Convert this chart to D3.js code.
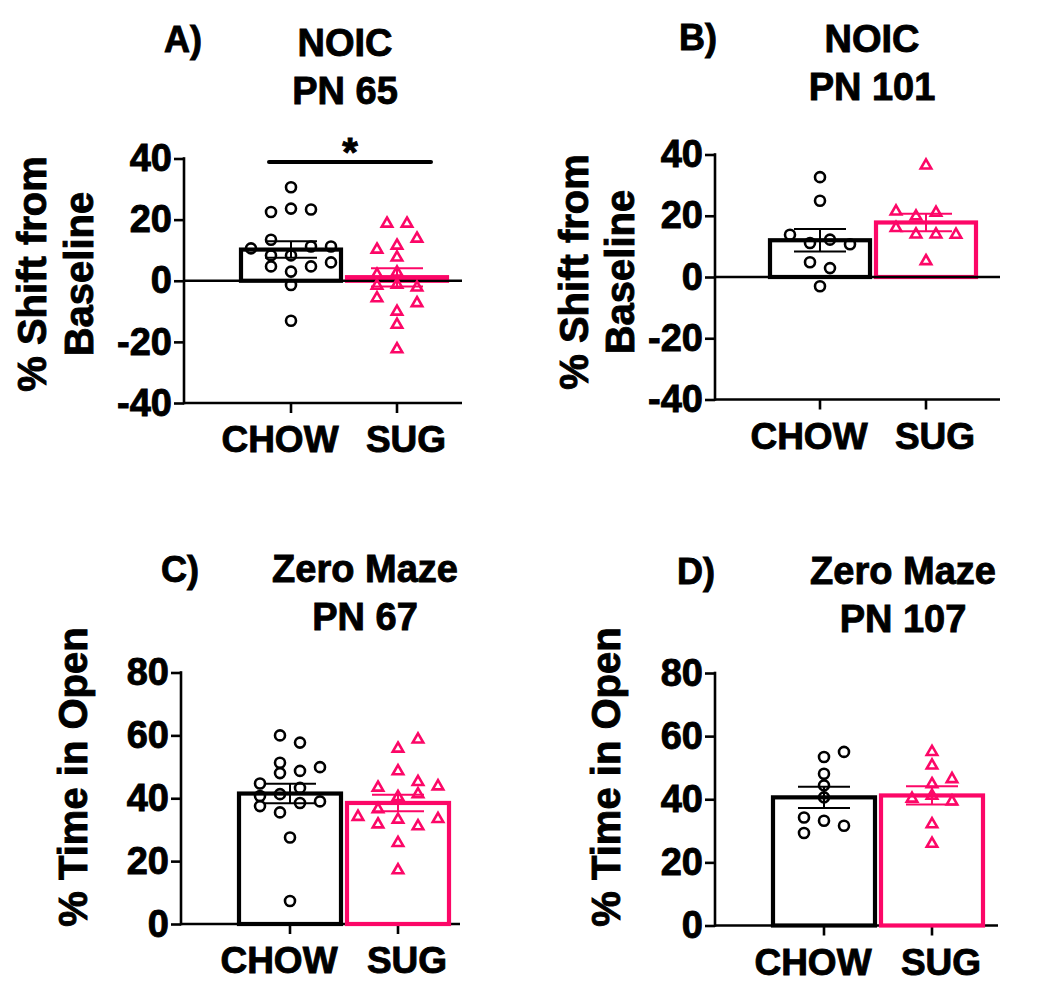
<!DOCTYPE html>
<html>
<head>
<meta charset="utf-8">
<script src="https://cdn.jsdelivr.net/npm/d3@7"></script>
<style>
  html, body { margin: 0; padding: 0; background: #fff; }
  svg text { font-family: "Liberation Sans", Arial, sans-serif; font-weight: bold; fill: #000;
             stroke: #000; stroke-width: 0.9px; paint-order: stroke; }
</style>
</head>
<body>
<svg id="chart" width="1050" height="990"></svg>
<script>
// ---------------- DATA ----------------
const categories = ["CHOW", "SUG"];
const shiftTicks = [-40, -20, 0, 20, 40];
const timeTicks = [0, 20, 40, 60, 80];

// A) NOIC PN 65
const noic65Chow = [30.6, 22.5, 23.6, 23.3, 13.4, 10.6, 11.2, 11.2, 8.3, 8.3, 6.0, 4.7, 4.7, 3.0, -1.4, -13.1];
const noic65ChowSlot = [0, -2, 0, 2, -2, -4, 2, 4, -2, 0, 4, -2, 2, 0, 0, 0];
const noic65Sug = [18.7, 18.7, 13.8, 10.2, 11.5, 7.6, 2.0, 2.7, -1.6, -1.3, -2.2, -5.7, -7.3, -10.1, -14.4, -22.4];
const noic65SugSlot = [-1, 1, 2, -2, 0, 0, -2, 0, -2, 0, 2, -2, 2, 0, 0, 0];
const noic65Mean = [10.2, 1.1];
const noic65Sem = [2.7, 2.95];

// B) NOIC PN 101
const noic101Chow = [32.6, 24.9, 13.8, 11.1, 12.2, 10.7, 4.8, 2.9, -3.0];
const noic101ChowSlot = [0, 0, -3, -1, 1, 3, -1, 1, 0];
const noic101Sug = [36.4, 21.4, 19.8, 21.0, 16.0, 13.9, 13.9, 13.8, 5.2];
const noic101SugSlot = [0, -3, -1, 1, -3, -1, 1, 3, 0];
const noic101Mean = [12.0, 17.8];
const noic101Sem = [3.65, 2.85];

// C) Zero Maze PN 67
const maze67Chow = [60.0, 57.7, 51.3, 49.9, 48.0, 48.7, 44.7, 43.3, 40.7, 41.3, 37.5, 38.5, 39.0, 35.5, 27.5, 7.3];
const maze67ChowSlot = [-1, 1, -1, 3, -1, 1, -3, 1, -3, -1, -3, 1, 3, -1, 0, 0];
const maze67Sug = [58.7, 55.8, 48.6, 45.2, 43.4, 43.8, 40.4, 41.3, 36.5, 34.1, 33.2, 33.4, 31.7, 31.1, 25.8, 17.1];
const maze67SugSlot = [2, 0, 0, 2, -2, 4, 0, 2, -2, -4, 0, 4, -2, 2, 0, 0];
const maze67Mean = [41.5, 38.5];
const maze67Sem = [3.1, 2.65];

// D) Zero Maze PN 107
const maze107Chow = [55.0, 53.4, 48.1, 44.4, 40.6, 34.2, 33.2, 31.6, 29.3];
const maze107ChowSlot = [2, 0, 0, 0, 0, -2, 0, 2, -2];
const maze107Sug = [55.0, 50.7, 46.4, 44.8, 41.1, 40.2, 39.3, 32.1, 25.9];
const maze107SugSlot = [0, 0, 2, 0, 0, -2, 2, 0, 0];
const maze107Mean = [40.6, 41.2];
const maze107Sem = [3.35, 2.9];

// ---------------- DRAWING ----------------
const PINK = "#fc0767";
const colors = { CHOW: "#000", SUG: PINK };
const svg = d3.select("#chart");
const slotScale = d3.scaleLinear().domain([-1, 1]).range([-10, 10]);

function drawPanel(p) {
  const g = svg.append("g");
  const y = d3.scaleLinear().domain(p.domain).range([p.yBot, p.yTop]);
  const x = d3.scaleBand().domain(categories).range(p.xRange).paddingInner(0).paddingOuter(0);
  const bw = x.bandwidth();

  // y axis
  const yAxis = d3.axisLeft(y).tickValues(p.ticks).tickSize(10).tickPadding(2).tickFormat(d => String(d));
  const ya = g.append("g").attr("transform", `translate(${p.axisX},0)`).call(yAxis);
  ya.select(".domain").remove();
  ya.selectAll(".tick line").attr("stroke", "#000").attr("stroke-width", 2.6);
  ya.selectAll(".tick text").attr("font-size", 38).attr("fill", "#000");
  g.append("line").attr("x1", p.axisX).attr("x2", p.axisX)
    .attr("y1", y(p.domain[1]) - 1.3).attr("y2", y(p.domain[0]) + 1.3)
    .attr("stroke", "#000").attr("stroke-width", 2.6);

  // x axis
  const xAxis = d3.axisBottom(x).tickSize(10).tickPadding(13);
  const xa = g.append("g").attr("transform", `translate(0,${y(p.domain[0])})`).call(xAxis);
  xa.select(".domain").remove();
  xa.selectAll(".tick line").attr("stroke", "#000").attr("stroke-width", 2.6);
  xa.selectAll(".tick text").attr("font-size", 37).attr("fill", "#000")
    .attr("dx", d => d === "CHOW" ? -11 : 9);
  g.append("line").attr("x1", p.axisX).attr("x2", p.axisEnd)
    .attr("y1", y(p.domain[0])).attr("y2", y(p.domain[0]))
    .attr("stroke", "#000").attr("stroke-width", 2.6);

  // bars
  const bars = categories.map((c, i) => ({ c, mean: p.mean[i], sem: p.sem[i] }));
  g.selectAll("rect.bar").data(bars).enter().append("rect")
    .attr("class", "bar")
    .attr("x", d => x(d.c) + 3)
    .attr("width", bw - 6)
    .attr("y", d => Math.min(y(d.mean), y(0)))
    .attr("height", d => Math.abs(y(0) - y(d.mean)))
    .attr("fill", "#fff")
    .attr("stroke", d => colors[d.c])
    .attr("stroke-width", 4.2);

  // zero line
  if (p.domain[0] < 0) {
    g.append("line").attr("x1", p.axisX).attr("x2", p.axisEnd)
      .attr("y1", y(0)).attr("y2", y(0))
      .attr("stroke", "#000").attr("stroke-width", 2.6);
    bars.filter(d => Math.abs(y(d.mean) - y(0)) < 6).forEach(d => {
      g.append("line").attr("x1", x(d.c) + 1).attr("x2", x(d.c) + bw - 1)
        .attr("y1", y(d.mean)).attr("y2", y(d.mean))
        .attr("stroke", colors[d.c]).attr("stroke-width", 4.2);
    });
  }

  // points
  const cx = x("CHOW") + bw / 2;
  const sx = x("SUG") + bw / 2;
  g.selectAll("circle.pt").data(p.chow.map((v, i) => ({ v, s: p.chowSlot[i] }))).enter()
    .append("circle").attr("class", "pt")
    .attr("cx", d => cx + slotScale(d.s))
    .attr("cy", d => y(d.v))
    .attr("r", 5)
    .attr("fill", "none").attr("stroke", "#000").attr("stroke-width", 2.6);
  const tri = d3.symbol().type(d3.symbolTriangle).size(48);
  g.selectAll("path.pt").data(p.sug.map((v, i) => ({ v, s: p.sugSlot[i] }))).enter()
    .append("path").attr("class", "pt")
    .attr("d", tri)
    .attr("transform", d => `translate(${sx + slotScale(d.s)},${y(d.v)})`)
    .attr("fill", "none").attr("stroke", PINK).attr("stroke-width", 2.6).attr("stroke-linejoin", "miter");

  // error bars
  bars.forEach(d => {
    const c = x(d.c) + bw / 2;
    const col = colors[d.c];
    const eg = g.append("g").attr("stroke", col).attr("stroke-width", 2);
    eg.append("line").attr("x1", c).attr("x2", c).attr("y1", y(d.mean - d.sem)).attr("y2", y(d.mean + d.sem));
    eg.append("line").attr("x1", c - 26).attr("x2", c + 26).attr("y1", y(d.mean - d.sem)).attr("y2", y(d.mean - d.sem));
    eg.append("line").attr("x1", c - 26).attr("x2", c + 26).attr("y1", y(d.mean + d.sem)).attr("y2", y(d.mean + d.sem));
  });

  // titles
  p.title.forEach((t, i) => {
    g.append("text").attr("x", p.titleX).attr("y", p.titleY + i * 47.5)
      .attr("text-anchor", "middle").attr("font-size", 38).text(t);
  });
  g.append("text").attr("x", p.letterX).attr("y", p.letterY).attr("font-size", 36).text(p.letter);

  // y label
  p.ylabel.forEach((t, i) => {
    g.append("text")
      .attr("transform", `translate(${p.ylabelX[i]},${p.ylabelY}) rotate(-90)`)
      .attr("text-anchor", "middle").attr("font-size", 40).text(t);
  });

  if (p.sig) {
    g.append("line").attr("x1", cx - 22).attr("x2", sx + 34)
      .attr("y1", p.sig.y).attr("y2", p.sig.y)
      .attr("stroke", "#000").attr("stroke-width", 4).attr("stroke-linecap", "round");
    g.append("text").attr("x", (cx + sx) / 2 + 6).attr("y", p.sig.y + 4)
      .attr("text-anchor", "middle").attr("font-size", 40).text("*");
  }
}

drawPanel({
  chow: noic65Chow, chowSlot: noic65ChowSlot, sug: noic65Sug, sugSlot: noic65SugSlot,
  mean: noic65Mean, sem: noic65Sem, domain: [-40, 40], ticks: shiftTicks,
  axisX: 184, yTop: 158.5, yBot: 403, xRange: [238, 450], axisEnd: 462,
  title: ["NOIC", "PN 65"], titleX: 345, titleY: 56, letter: "A)", letterX: 164, letterY: 52,
  ylabel: ["% Shift from", "Baseline"], ylabelX: [46, 93], ylabelY: 274,
  sig: { y: 162 }
});
drawPanel({
  chow: noic101Chow, chowSlot: noic101ChowSlot, sug: noic101Sug, sugSlot: noic101SugSlot,
  mean: noic101Mean, sem: noic101Sem, domain: [-40, 40], ticks: shiftTicks,
  axisX: 715, yTop: 154.5, yBot: 399.5, xRange: [767, 979], axisEnd: 1000,
  title: ["NOIC", "PN 101"], titleX: 872, titleY: 52, letter: "B)", letterX: 679, letterY: 50,
  ylabel: ["% Shift from", "Baseline"], ylabelX: [588, 634], ylabelY: 272
});
drawPanel({
  chow: maze67Chow, chowSlot: maze67ChowSlot, sug: maze67Sug, sugSlot: maze67SugSlot,
  mean: maze67Mean, sem: maze67Sem, domain: [0, 80], ticks: timeTicks,
  axisX: 181, yTop: 672.5, yBot: 924, xRange: [236, 452], axisEnd: 460,
  title: ["Zero Maze", "PN 67"], titleX: 365, titleY: 582, letter: "C)", letterX: 161, letterY: 582,
  ylabel: ["% Time in Open"], ylabelX: [87], ylabelY: 777
});
drawPanel({
  chow: maze107Chow, chowSlot: maze107ChowSlot, sug: maze107Sug, sugSlot: maze107SugSlot,
  mean: maze107Mean, sem: maze107Sem, domain: [0, 80], ticks: timeTicks,
  axisX: 715, yTop: 673, yBot: 925.5, xRange: [770, 986], axisEnd: 998,
  title: ["Zero Maze", "PN 107"], titleX: 903, titleY: 584, letter: "D)", letterX: 677, letterY: 584,
  ylabel: ["% Time in Open"], ylabelX: [620], ylabelY: 777
});
</script>
</body>
</html>
